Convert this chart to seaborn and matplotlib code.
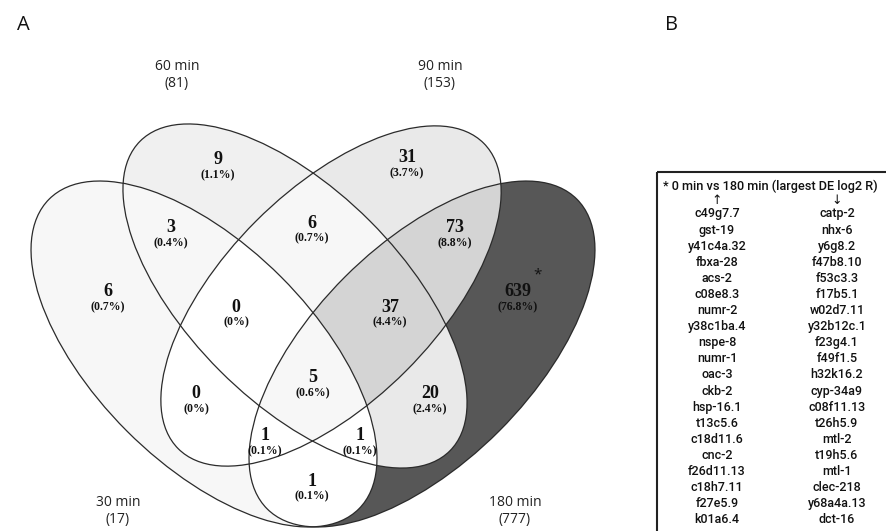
import numpy as np
import matplotlib
matplotlib.use("Agg")
import matplotlib.pyplot as plt
from matplotlib.patches import Ellipse, Rectangle
import seaborn as sns

# ---- data -------------------------------------------------------------
set_names = ["30 min", "60 min", "90 min", "180 min"]
set_totals = [17, 81, 153, 777]

# A = 30 min, B = 60 min, C = 90 min, D = 180 min
region_keys = ["A", "B", "C", "D", "AB", "BC", "CD", "AC", "BD", "AD",
               "ABC", "BCD", "ACD", "ABD", "ABCD"]
region_counts = [6, 9, 31, 639, 3, 6, 73, 0, 20, 1, 0, 37, 1, 1, 5]

table_title = "* 0 min vs 180 min (largest DE log2 R)"
up_genes = ["c49g7.7", "gst-19", "y41c4a.32", "fbxa-28", "acs-2", "c08e8.3",
            "numr-2", "y38c1ba.4", "nspe-8", "numr-1", "oac-3", "ckb-2",
            "hsp-16.1", "t13c5.6", "c18d11.6", "cnc-2", "f26d11.13",
            "c18h7.11", "f27e5.9", "k01a6.4"]
down_genes = ["catp-2", "nhx-6", "y6g8.2", "f47b8.10", "f53c3.3", "f17b5.1",
              "w02d7.11", "y32b12c.1", "f23g4.1", "f49f1.5", "h32k16.2",
              "cyp-34a9", "c08f11.13", "t26h5.9", "mtl-2", "t19h5.6", "mtl-1",
              "clec-218", "y68a4a.13", "dct-16"]

# ---- layout (pixel space of the canvas) -------------------------------
W, H = 886, 531
ellipses = {  # cx, cy, semi-major, semi-minor, angle
    "A": (204, 354, 219, 109, 45),
    "B": (295, 296, 219, 106, 45),
    "C": (331, 296, 216, 106, -45),
    "D": (422, 354, 219, 109, -45),
}
label_pos = {
    "A": (108, 292), "B": (218, 160), "C": (407, 158), "D": (518, 292),
    "AB": (171, 228), "BC": (312, 223), "CD": (455, 228),
    "AC": (196, 394), "BD": (430, 394), "AD": (312, 481),
    "ABC": (236, 307), "BCD": (390, 307), "ACD": (265, 436),
    "ABD": (360, 436), "ABCD": (313, 378),
}
set_label_pos = [(118, 502), (177, 67), (440, 67), (515, 503)]

# discrete grey shading by region size
shade_edges = [2, 9, 16, 36, 100]
shade_colors = ["#ffffff", "#f7f7f7", "#f0f0f0", "#e9e9e9", "#d4d4d4", "#575757"]

sns.set_theme(style="white")
plt.rcParams["font.family"] = ["Open Sans", "DejaVu Sans"]

fig = plt.figure(figsize=(W / 100, H / 100), dpi=100)
ax = fig.add_axes([0, 0, 1, 1])
ax.set_xlim(0, W)
ax.set_ylim(H, 0)
ax.axis("off")

# ---- region fill ------------------------------------------------------
xs = np.arange(W) + 0.5
ys = np.arange(H) + 0.5
X, Y = np.meshgrid(xs, ys)
inside = {}
for k, (cx, cy, a, b, ang) in ellipses.items():
    t = np.deg2rad(ang)
    dx, dy = X - cx, Y - cy
    u = dx * np.cos(t) + dy * np.sin(t)
    v = -dx * np.sin(t) + dy * np.cos(t)
    inside[k] = (u / a) ** 2 + (v / b) ** 2 <= 1

rgb = np.ones((H, W, 3))
count_of = dict(zip(region_keys, region_counts))
for key, n in count_of.items():
    mask = np.ones((H, W), bool)
    for k in "ABCD":
        mask &= inside[k] if k in key else ~inside[k]
    col = matplotlib.colors.to_rgb(shade_colors[np.digitize(n, shade_edges)])
    rgb[mask] = col
ax.imshow(rgb, extent=(0, W, H, 0), interpolation="bilinear", zorder=0)

for k, (cx, cy, a, b, ang) in ellipses.items():
    ax.add_patch(Ellipse((cx, cy), 2 * a, 2 * b, angle=ang, fill=False,
                         edgecolor="#2b2b2b", lw=0.9, zorder=2))

# ---- region labels ----------------------------------------------------
total = sum(region_counts)
serif = ["Liberation Serif", "DejaVu Serif"]
for key, n in zip(region_keys, region_counts):
    x, y = label_pos[key]
    pct = 100 * n / total
    ptxt = f"({pct:.1f}%)" if n > 0 else "(0%)"
    ax.text(x, y, str(n), ha="center", va="center", family=serif,
            weight="bold", fontsize=13, color="#111111", zorder=3)
    ax.text(x, y + 15, ptxt, ha="center", va="center", family=serif,
            weight="bold", fontsize=8.5, color="#111111", zorder=3)
ax.text(label_pos["D"][0] + 20, label_pos["D"][1] - 17, "*", ha="center",
        va="center", fontsize=11, color="#111111", zorder=3)

for name, tot, (x, y) in zip(set_names, set_totals, set_label_pos):
    ax.text(x, y, name, ha="center", va="center", fontsize=10, color="#222222")
    ax.text(x, y + 17, f"({tot})", ha="center", va="center", fontsize=10,
            color="#222222")

ax.text(17, 25, "A", ha="left", va="center", fontsize=14.5, color="#111111")
ax.text(665, 25, "B", ha="left", va="center", fontsize=14.5, color="#111111")

# ---- gene table -------------------------------------------------------
ax.add_patch(Rectangle((657, 172), 260, 400, fill=False, edgecolor="#222222",
                       lw=1.5, zorder=2))
narrow = ["Roboto", "DejaVu Sans"]
ax.text(663, 186, table_title, ha="left", va="center", family=narrow,
        weight="medium", fontsize=9.2, color="#111111")
col_x = [717, 837]
ax.text(col_x[0], 200, "\u2191", ha="center", va="center",
        family=["DejaVu Sans"], fontsize=9, color="#111111")
ax.text(col_x[1], 200, "\u2193", ha="center", va="center",
        family=["DejaVu Sans"], fontsize=9, color="#111111")
row_h = 16.1
for i, (g_up, g_dn) in enumerate(zip(up_genes, down_genes)):
    y = 214 + i * row_h
    ax.text(col_x[0], y, g_up, ha="center", va="center", family=narrow,
            weight="medium", fontsize=9, color="#111111")
    ax.text(col_x[1], y, g_dn, ha="center", va="center", family=narrow,
            weight="medium", fontsize=9, color="#111111")

fig.savefig("out.png", dpi=100)
